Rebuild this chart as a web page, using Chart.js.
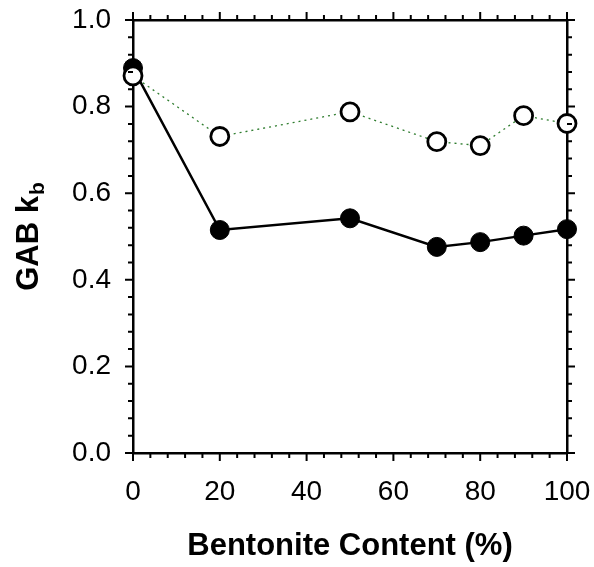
<!DOCTYPE html>
<html>
<head>
<meta charset="utf-8">
<script src="https://cdn.jsdelivr.net/npm/chart.js@4/dist/chart.umd.min.js"></script>
<style>
  html, body { margin: 0; padding: 0; background: #fff; }
  #wrap { width: 594px; height: 567px; position: relative; }
</style>
</head>
<body>
<div id="wrap"><canvas id="kbChart"></canvas></div>
<script>
// --- Data ---
const bentonite = [0, 20, 50, 70, 80, 90, 100];
const kbFilled = [0.889, 0.515, 0.542, 0.476, 0.487, 0.502, 0.517];
const kbOpen = [0.871, 0.731, 0.788, 0.719, 0.710, 0.779, 0.761];

const xTicks = [0, 20, 40, 60, 80, 100];
const yTicks = [0.0, 0.2, 0.4, 0.6, 0.8, 1.0];
const xMinorStep = 4;
const yMinorStep = 0.04;

const xTitle = 'Bentonite Content (%)';
const yTitleMain = 'GAB k';
const yTitleSub = 'b';

const FONT = "Arial, 'Liberation Sans', sans-serif";

function toPoints(xs, ys) {
  return xs.map((x, i) => ({ x: x, y: ys[i] }));
}

// fixed box size for an axis, no extra label overflow padding
function fixBox(w, h) {
  return s => {
    if (w !== null) s.width = w;
    if (h !== null) s.height = h;
    s.paddingLeft = 0; s.paddingRight = 0;
    s.paddingTop = 0; s.paddingBottom = 0;
  };
}

// --- Plugin: outward major/minor ticks on all four sides + axis titles ---
const frameTicks = {
  id: 'frameTicks',
  afterDraw(chart) {
    const ctx = chart.ctx;
    const area = chart.chartArea;
    const xs = chart.scales.x;
    const ys = chart.scales.y;
    const majorLen = 8, minorLen = 5;

    ctx.save();
    ctx.strokeStyle = '#000';
    ctx.lineWidth = 2;
    ctx.lineCap = 'butt';

    // x ticks (bottom and top)
    for (let v = xs.min; v <= xs.max + 1e-9; v += xMinorStep) {
      const isMajor = xTicks.some(t => Math.abs(t - v) < 1e-6);
      const len = isMajor ? majorLen : minorLen;
      const px = xs.getPixelForValue(v);
      ctx.beginPath();
      ctx.moveTo(px, area.bottom);
      ctx.lineTo(px, area.bottom + len);
      ctx.moveTo(px, area.top);
      ctx.lineTo(px, area.top - len);
      ctx.stroke();
    }
    // y ticks (left and right)
    for (let v = ys.min; v <= ys.max + 1e-9; v += yMinorStep) {
      const isMajor = yTicks.some(t => Math.abs(t - v) < 1e-6);
      const len = isMajor ? majorLen : minorLen;
      const py = ys.getPixelForValue(v);
      ctx.beginPath();
      ctx.moveTo(area.left, py);
      ctx.lineTo(area.left - len, py);
      ctx.moveTo(area.right, py);
      ctx.lineTo(area.right + len, py);
      ctx.stroke();
    }

    // x axis title
    ctx.fillStyle = '#000';
    ctx.font = 'bold 31px ' + FONT;
    ctx.textAlign = 'center';
    ctx.textBaseline = 'middle';
    ctx.fillText(xTitle, (area.left + area.right) / 2, 546);

    // y axis title with subscript
    const mainFont = 'bold 31px ' + FONT;
    const subFont = 'bold 21px ' + FONT;
    ctx.font = mainFont;
    const wMain = ctx.measureText(yTitleMain).width;
    ctx.font = subFont;
    const wSub = ctx.measureText(yTitleSub).width;
    const total = wMain + wSub + 1;
    ctx.translate(38, (area.top + area.bottom) / 2);
    ctx.rotate(-Math.PI / 2);
    ctx.textAlign = 'left';
    ctx.textBaseline = 'alphabetic';
    ctx.font = mainFont;
    ctx.fillText(yTitleMain, -total / 2, 0);
    ctx.font = subFont;
    ctx.fillText(yTitleSub, -total / 2 + wMain + 1, 6);
    ctx.restore();
  }
};

const ctx = document.getElementById('kbChart').getContext('2d');
new Chart(ctx, {
  type: 'line',
  data: {
    datasets: [
      {
        label: 'open',
        data: toPoints(bentonite, kbOpen),
        borderColor: '#2f7d2f',
        borderWidth: 1.3,
        borderDash: [2, 4],
        pointRadius: 9,
        pointBorderWidth: 2.8,
        pointBorderColor: '#000',
        pointBackgroundColor: '#fff',
        tension: 0,
        clip: false
      },
      {
        label: 'filled',
        data: toPoints(bentonite, kbFilled),
        borderColor: '#000',
        borderWidth: 2.5,
        pointRadius: 9.5,
        pointBorderWidth: 1,
        pointBorderColor: '#000',
        pointBackgroundColor: '#000',
        tension: 0,
        clip: false
      }
    ]
  },
  options: {
    responsive: true,
    maintainAspectRatio: false,
    animation: false,
    layout: { padding: 0 },
    plugins: {
      legend: { display: false },
      tooltip: { enabled: false }
    },
    scales: {
      x: {
        type: 'linear',
        position: 'bottom',
        min: 0,
        max: 100,
        afterBuildTicks: s => { s.ticks = xTicks.map(v => ({ value: v })); },
        ticks: {
          color: '#000',
          font: { family: FONT, size: 28 },
          padding: 22,
          maxRotation: 0
        },
        grid: { display: false, drawTicks: false },
        border: { display: true, color: '#000', width: 2.5 },
        afterFit: fixBox(null, 114)
      },
      x2: {
        type: 'linear',
        position: 'top',
        min: 0,
        max: 100,
        ticks: { display: false },
        grid: { display: false, drawTicks: false },
        border: { display: true, color: '#000', width: 2.5 },
        afterFit: fixBox(null, 20)
      },
      y: {
        type: 'linear',
        position: 'left',
        min: 0,
        max: 1,
        afterBuildTicks: s => { s.ticks = yTicks.map(v => ({ value: v })); },
        ticks: {
          color: '#000',
          font: { family: FONT, size: 28 },
          padding: 22,
          callback: v => v.toFixed(1)
        },
        grid: { display: false, drawTicks: false },
        border: { display: true, color: '#000', width: 2.5 },
        afterFit: fixBox(133, null)
      },
      y2: {
        type: 'linear',
        position: 'right',
        min: 0,
        max: 1,
        ticks: { display: false },
        grid: { display: false, drawTicks: false },
        border: { display: true, color: '#000', width: 2.5 },
        afterFit: fixBox(27, null)
      }
    }
  },
  plugins: [frameTicks]
});
</script>
</body>
</html>
